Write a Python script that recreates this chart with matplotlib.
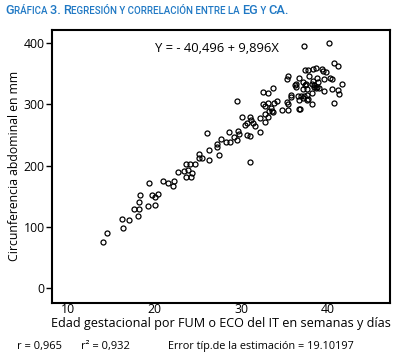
import matplotlib
matplotlib.use("Agg")
import matplotlib.pyplot as plt

# ---- data ----
ega = [14.05, 14.5, 16.25, 16.33, 17.07, 17.65, 18.19, 18.15, 18.34, 18.1,
       19.27, 19.34, 19.65, 20.04, 20.35, 20.04, 21.0, 21.5, 22.08, 22.28,
       22.66, 23.4, 23.67, 24.05, 23.9, 24.28, 23.6, 24.17, 24.67, 25.1,
       25.17, 25.44, 26.33, 26.33, 26.1, 27.2, 27.26, 27.45, 27.68, 28.22,
       28.73, 28.65, 29.19, 29.58, 29.69, 29.77, 29.54, 30.12, 30.5, 30.73,
       30.66, 31.1, 31.1, 31.2, 31.4, 31.6, 31.1, 32.16, 32.16, 32.5,
       32.55, 32.75, 32.8, 32.78, 33.1, 33.1, 33.2, 33.1, 33.5, 33.6,
       33.75, 33.86, 34.13, 33.75, 34.8, 35.35, 35.4, 35.45, 35.3, 35.5,
       35.74, 35.74, 36.24, 36.4, 36.55, 36.7, 36.7, 36.8, 36.72, 37.22,
       37.22, 37.26, 37.46, 37.46, 37.57, 37.34, 37.6, 37.84, 37.76, 38.2,
       38.2, 38.3, 38.35, 38.4, 38.7, 38.73, 38.84, 39.0, 38.93, 39.36,
       39.5, 39.8, 39.6, 39.65, 40.23, 40.35, 40.6, 40.6, 40.8, 40.8,
       41.2, 41.2, 41.3, 41.74, 37.8, 36.37, 37.6, 38.2, 38.4, 38.8,
       37.0, 37.2, 37.6]
ca = [74, 89, 113, 97, 111, 128, 128, 140, 151, 118,
      134, 172, 152, 148, 153, 136, 175, 172, 167, 175,
      190, 191, 203, 202, 193, 188, 181, 181, 202, 219,
      213, 212, 226, 209, 254, 231, 235, 218, 243, 238,
      238, 255, 246, 241, 257, 251, 305, 280, 267, 270,
      250, 248, 280, 274, 270, 265, 206, 255, 278, 300,
      320, 285, 297, 271, 318, 303, 289, 280, 294, 289,
      327, 302, 306, 288, 291, 304, 300, 291, 342, 347,
      315, 312, 331, 334, 314, 308, 292, 292, 343, 337,
      326, 395, 357, 331, 333, 313, 316, 347, 309, 319,
      300, 358, 338, 332, 359, 327, 344, 327, 337, 358,
      355, 353, 341, 322, 400, 343, 341, 325, 302, 367,
      363, 324, 317, 333, 356, 328, 326, 334, 329, 328,
      313, 310, 307]
xticks = [10, 20, 30, 40]
yticks = [0, 100, 200, 300, 400]

FONT = "Open Sans"
plt.rcParams['font.family'] = [FONT, 'DejaVu Sans']

fig = plt.figure(figsize=(3.96, 3.56), dpi=100)
ax = fig.add_axes([0.1306, 0.1497, 0.8542, 0.766])
ax.plot(ega, ca, linestyle='none', marker='o', ms=3.6, mfc='none',
        mec='black', mew=0.9)
ax.set_xlim(8.07, 47.26)
ax.set_ylim(-24.6, 421.8)
ax.set_xticks(xticks)
ax.set_yticks(yticks)
for s in ax.spines.values():
    s.set_linewidth(1.5)
ax.tick_params(axis='y', direction='out', length=4, width=1.0,
               labelsize=8.8, pad=1)
ax.tick_params(axis='x', direction='out', length=0, labelsize=8.8, pad=0.5)
ax.set_xlabel("Edad gestacional por FUM o ECO del IT en semanas y días",
              fontsize=9.1, labelpad=0.5)
ax.set_ylabel("Circunferencia abdominal en mm", fontsize=8.8, labelpad=2)
ax.text(0.305, 0.934, "Y = - 40,496 + 9,896X", transform=ax.transAxes,
        ha='left', va='center', fontsize=9.4)

# bottom statistics line
fig.text(17/396, 1 - 346/356, "r = 0,965", fontsize=8.0, va='center')
fig.text(81/396, 1 - 346/356, "r² = 0,932", fontsize=8.0, va='center')
fig.text(168/396, 1 - 346/356, "Error típ.de la estimación = 19.10197",
         fontsize=7.8, va='center')

# title in small caps
segments = [("G", 9.2), ("RÁFICA ", 7.0), ("3. R", 9.2),
            ("EGRESIÓN Y CORRELACIÓN ENTRE LA ", 7.0), ("EG", 9.2),
            (" Y ", 7.0), ("CA.", 9.2)]
renderer = fig.canvas.get_renderer()
xpix = 5.0
ybase = 1 - 14.5 / 356
for txt, sz in segments:
    t = fig.text(xpix / 396, ybase, txt, fontsize=sz, color='#1f78c4',
                 va='baseline', ha='left', family=['Roboto', 'DejaVu Sans'],
                 fontweight='medium')
    bb = t.get_window_extent(renderer=renderer)
    xpix += bb.width

fig.savefig("out.png", dpi=100)
